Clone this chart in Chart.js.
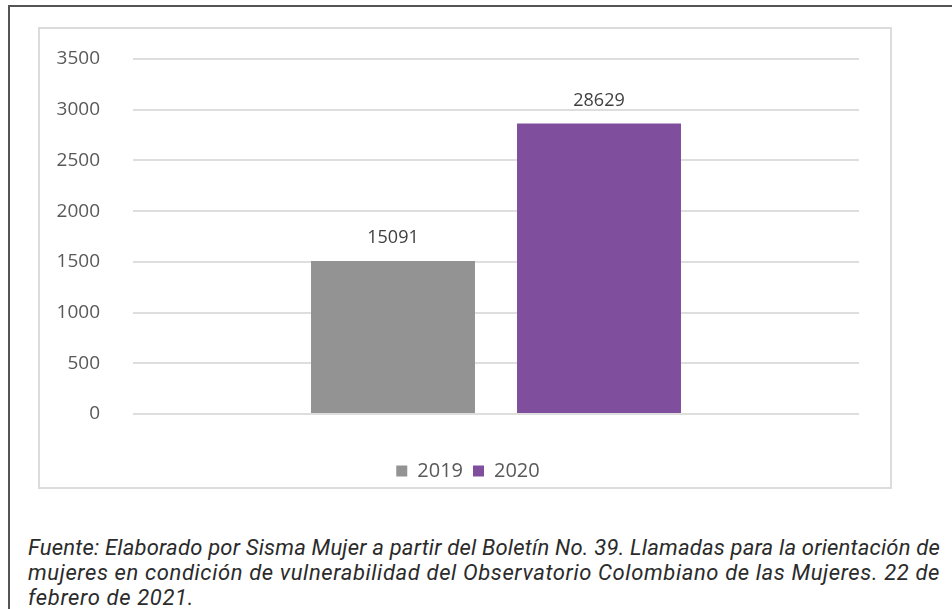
<!DOCTYPE html>
<html>
<head>
<meta charset="utf-8">
<script src="https://cdn.jsdelivr.net/npm/chart.js@4/dist/chart.umd.min.js"></script>
<style>
  html, body { margin: 0; padding: 0; background: #fff; }
  body { width: 952px; height: 609px; position: relative; overflow: hidden; }
  .frame {
    position: absolute; left: 8px; top: 5px; width: 980px; height: 640px;
    border-left: 2px solid #555; border-top: 2px solid #555;
  }
  #chartWrap { position: absolute; left: 0; top: 0; width: 952px; height: 500px; }
  .chart-box {
    position: absolute; left: 38px; top: 27px; width: 854px; height: 462px;
    border: 2px solid #dcdcdc; box-sizing: border-box; pointer-events: none;
  }
  .caption {
    position: absolute; left: 28px; top: 535px;
    font-family: Roboto, "Liberation Sans", sans-serif; font-style: italic;
    font-size: 22px; line-height: 25px; color: #2b2b2b;
  }
  .caption div { white-space: nowrap; display: inline-block; }
</style>
</head>
<body>
<div class="frame"></div>
<div id="chartWrap"><canvas id="llamadasChart" width="952" height="500"></canvas></div>
<div class="chart-box"></div>
<div class="caption">
  <div data-fit="912">Fuente: Elaborado por Sisma Mujer a partir del Boletín No. 39. Llamadas para la orientación de</div><br>
  <div data-fit="912">mujeres en condición de vulnerabilidad del Observatorio Colombiano de las Mujeres. 22 de</div><br>
  <div data-fit="166">febrero de 2021.</div>
</div>
<script>
// Llamadas de orientación, 2019 vs 2020
const categories = [''];
const seriesNames = ['2019', '2020'];
const values2019 = [15091];
const values2020 = [28629];
const seriesColors = ['#939393', '#7f4f9e'];
// axis shows the counts in tens
const yTickLabels = ['0', '500', '1000', '1500', '2000', '2500', '3000', '3500'];

// stretch/squeeze each caption line to its set width
document.querySelectorAll('.caption [data-fit]').forEach(el => {
  const target = +el.dataset.fit;
  const natural = el.getBoundingClientRect().width;
  el.style.letterSpacing = ((target - natural) / el.textContent.length).toFixed(3) + 'px';
});

// value labels above each bar
const barValueLabels = {
  id: 'barValueLabels',
  afterDatasetsDraw(chart) {
    const ctx = chart.ctx;
    ctx.save();
    ctx.font = '18px "Open Sans", sans-serif';
    ctx.fillStyle = '#404040';
    ctx.textAlign = 'center';
    ctx.textBaseline = 'middle';
    chart.data.datasets.forEach((ds, i) => {
      chart.getDatasetMeta(i).data.forEach((bar, j) => {
        ctx.fillText(String(ds.data[j]), bar.x, bar.y - 23);
      });
    });
    ctx.restore();
  }
};

const ctx = document.getElementById('llamadasChart').getContext('2d');
new Chart(ctx, {
  type: 'bar',
  data: {
    labels: categories,
    datasets: [
      { label: seriesNames[0], data: values2019, backgroundColor: seriesColors[0] },
      { label: seriesNames[1], data: values2020, backgroundColor: seriesColors[1] }
    ]
  },
  options: {
    responsive: false,
    animation: false,
    categoryPercentage: 0.5675,
    barPercentage: 0.796,
    layout: { padding: { left: 50, right: 66, top: 59, bottom: 9 } },
    plugins: {
      legend: {
        position: 'bottom',
        labels: {
          boxWidth: 11, boxHeight: 11, padding: 10,
          font: { family: '"Open Sans", sans-serif', size: 20 },
          color: '#595959'
        }
      },
      tooltip: { enabled: false }
    },
    scales: {
      x: {
        grid: { display: false },
        border: { display: false },
        ticks: { display: false },
        afterFit(scale) { scale.height = 37; }
      },
      y: {
        min: 0, max: 35000,
        afterFit(scale) { scale.width = 83; },
        grid: { color: '#dedede', lineWidth: 2, drawTicks: false },
        border: { display: false },
        ticks: {
          stepSize: 5000, padding: 33, color: '#595959',
          font: { family: '"Open Sans", sans-serif', size: 19 },
          callback: (v, i) => yTickLabels[i]
        }
      },
      // empty right-hand gutter so the legend sits centred in the frame
      gutter: {
        position: 'right',
        grid: { display: false },
        border: { display: false },
        ticks: { display: false },
        afterFit(scale) { scale.width = 27; }
      }
    }
  },
  plugins: [barValueLabels]
});
</script>
</body>
</html>
